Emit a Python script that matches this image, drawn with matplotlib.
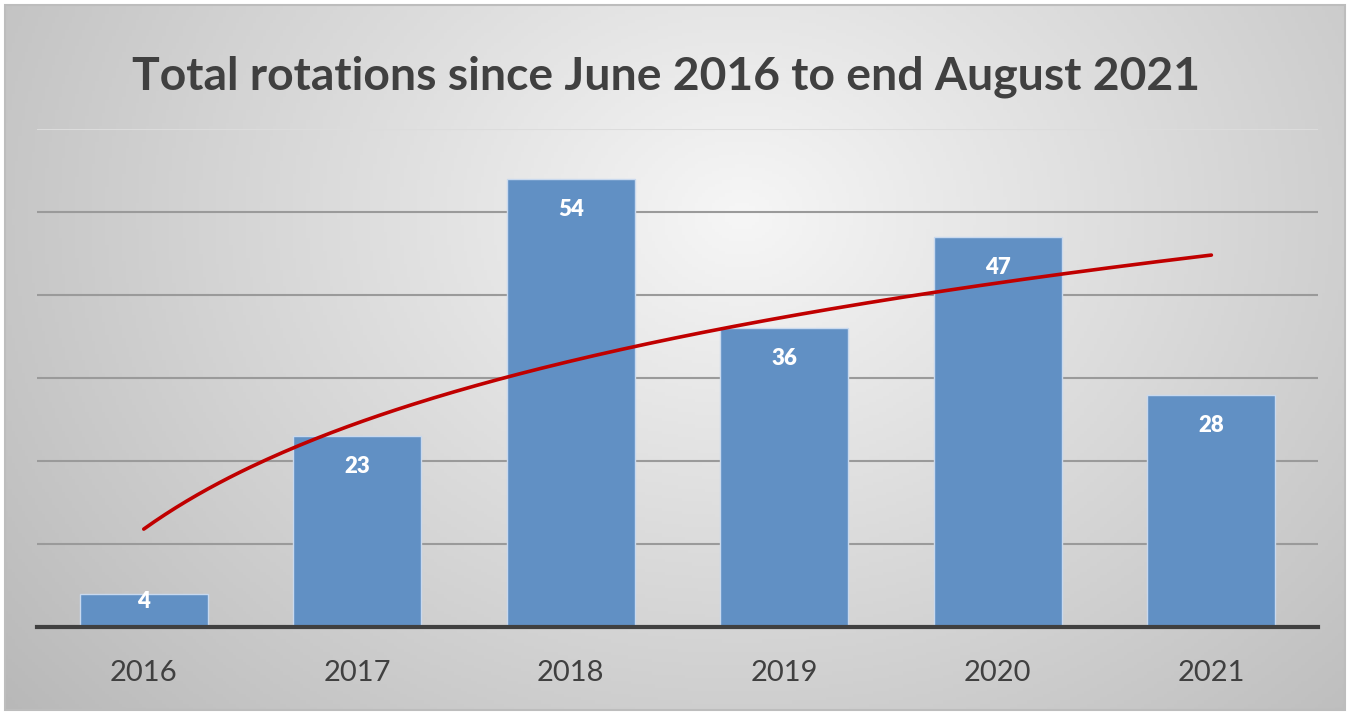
import matplotlib.pyplot as plt
import matplotlib.patches as mpatches
import numpy as np

years = ["2016", "2017", "2018", "2019", "2020", "2021"]
rotations = [4, 23, 54, 36, 47, 28]
title = "Total rotations since June 2016 to end August 2021"

plt.rcParams['font.family'] = ['Lato', 'DejaVu Sans']

fig = plt.figure(figsize=(13.5, 7.13), dpi=100)
fig.patch.set_facecolor('white')

# radial gray background inside the frame
bg = fig.add_axes([0.004, 0.004, 0.992, 0.989])
X, Y = np.meshgrid(np.linspace(0, 1, 400), np.linspace(0, 1, 220))
r = np.sqrt(((X - 0.55) / 0.62) ** 2 + ((Y - 0.30) / 0.95) ** 2)
shade = np.clip(0.965 - 0.21 * r, 0.72, 1)
bg.imshow(np.dstack([shade] * 3), aspect='auto', extent=(0, 1, 1, 0))
bg.set_axis_off()
fig.patches.append(mpatches.Rectangle((0.004, 0.004), 0.992, 0.989,
                                      transform=fig.transFigure, fill=False,
                                      edgecolor='#bdbdbd', lw=1.5))

ax = fig.add_axes([0.0274, 0.1206, 0.949, 0.6985])
ax.patch.set_alpha(0)
x = np.arange(len(years))
ax.bar(x, rotations, width=0.6, color='#6190c4', edgecolor='#c9d9ee',
       linewidth=1, zorder=2)

for xi, v in zip(x, rotations):
    ax.text(xi, max(v - 3.7, v * 0.78), str(v), ha='center', va='center',
            color='white', fontsize=16, fontweight='heavy', zorder=4)

# logarithmic trend line
a, b = np.polyfit(np.log(x + 1), rotations, 1)
xs = np.linspace(0, len(years) - 1, 200)
ax.plot(xs, a * np.log(xs + 1) + b, color='#c00000', lw=2.6,
        solid_capstyle='round', zorder=3)

ax.set_xlim(-0.5, len(years) - 0.5)
ax.set_ylim(0, 60)
ax.set_yticks(range(10, 61, 10))
ax.yaxis.grid(True, color='#9a9a9a', lw=1.5, zorder=1)
ax.get_ygridlines()[-1].set_color('#dcdcdc')
ax.set_axisbelow(True)
ax.tick_params(axis='y', left=False, labelleft=False)
ax.tick_params(axis='x', bottom=False, labelsize=21, labelcolor='#404040', pad=20)
ax.set_xticks(x, years)
for side in ['top', 'right', 'left']:
    ax.spines[side].set_visible(False)
ax.spines['bottom'].set_color('#404040')
ax.spines['bottom'].set_linewidth(3)
ax.spines['bottom'].set_zorder(5)

fig.text(0.493, 0.893, title, ha='center', va='center', fontsize=33.3,
         fontweight='bold', color='#404040')

fig.savefig('out.png', dpi=100)
